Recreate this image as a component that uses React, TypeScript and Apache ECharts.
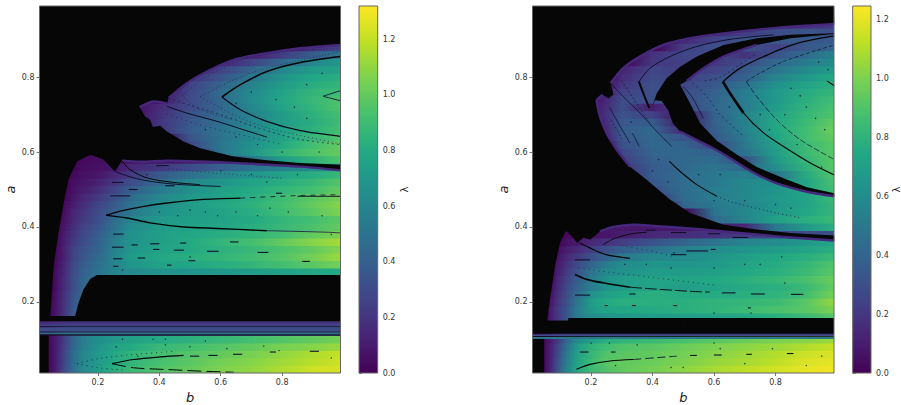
import React, { useEffect, useRef } from "react";
import * as echarts from "echarts";

type P = number[];
const FONT = "DejaVu Sans";
const BLACK = "#060606";
const FRINGE = "#46287c";

const xTicks = [0.2, 0.4, 0.6, 0.8];
const yTicks = [0.2, 0.4, 0.6, 0.8];
const cbTicks = [0, 0.2, 0.4, 0.6, 0.8, 1.0, 1.2];
const viridis = ["#440154", "#482475", "#414487", "#355f8d", "#2a788e", "#21918c", "#22a884", "#44bf70", "#7ad151", "#bddf26", "#fde725"];

// b positions of the columns of the lambda tables (values are lambda x 100)
const bStops = [0.01, 0.05, 0.07, 0.09, 0.12, 0.15, 0.2, 0.25, 0.3, 0.4, 0.5, 0.6, 0.7, 0.8, 0.9, 0.99];
const rowStart = 0.01;
const rowStep = 0.02;

const leftLambda = [
  [0, 5, 15, 28, 48, 62, 72, 82, 88, 95, 100, 106, 110, 116, 122, 124],
  [0, 5, 14, 27, 47, 60, 70, 80, 85, 93, 98, 104, 108, 113, 118, 122],
  [0, 5, 14, 27, 46, 60, 70, 78, 85, 92, 96, 100, 105, 110, 116, 120],
  [0, 5, 14, 25, 43, 57, 68, 76, 80, 88, 92, 96, 100, 105, 108, 112],
  [0, 5, 13, 24, 42, 55, 65, 70, 74, 80, 84, 88, 92, 96, 100, 104],
  [0, 5, 13, 24, 30, 30, 30, 30, 30, 30, 30, 30, 30, 30, 30, 30],
  [0, 5, 13, 24, 30, 30, 30, 30, 30, 30, 30, 30, 30, 30, 30, 30],
  [0, 3, 10, 20, 35, 45, 50, 50, 50, 50, 50, 50, 50, 50, 50, 50],
  [0, 3, 10, 20, 36, 46, 50, 50, 50, 50, 50, 50, 50, 50, 50, 50],
  [0, 2, 10, 19, 34, 46, 52, 55, 55, 55, 55, 55, 55, 55, 55, 55],
  [0, 1, 9, 18, 33, 44, 52, 55, 55, 55, 55, 55, 55, 55, 55, 55],
  [0, 0, 8, 16, 31, 42, 52, 55, 55, 55, 55, 55, 55, 55, 55, 55],
  [0, 0, 8, 16, 31, 42, 52, 55, 55, 55, 55, 55, 55, 55, 55, 55],
  [0, 0, 8, 15, 30, 40, 50, 58, 62, 66, 68, 70, 72, 76, 78, 80],
  [0, 0, 6, 14, 28, 38, 48, 58, 68, 75, 78, 82, 86, 92, 98, 104],
  [0, 0, 5, 12, 26, 35, 45, 58, 70, 78, 82, 86, 90, 96, 104, 112],
  [0, 0, 5, 12, 25, 33, 42, 57, 68, 76, 80, 84, 88, 94, 100, 108],
  [0, 0, 4, 11, 22, 30, 40, 56, 66, 74, 80, 86, 92, 100, 108, 114],
  [0, 0, 3, 10, 20, 28, 38, 52, 65, 74, 78, 82, 86, 92, 100, 106],
  [0, 0, 2, 8, 17, 25, 35, 48, 62, 72, 76, 78, 82, 88, 94, 100],
  [0, 0, 0, 6, 15, 22, 32, 45, 58, 70, 74, 76, 80, 86, 92, 98],
  [0, 0, 0, 5, 14, 20, 30, 40, 52, 66, 72, 76, 82, 90, 98, 106],
  [0, 0, 0, 4, 10, 17, 26, 36, 48, 64, 72, 78, 84, 92, 100, 108],
  [0, 0, 0, 2, 8, 14, 22, 32, 44, 60, 70, 76, 82, 90, 98, 104],
  [0, 0, 0, 0, 6, 10, 17, 26, 38, 54, 66, 74, 80, 86, 92, 100],
  [0, 0, 0, 0, 5, 8, 12, 20, 30, 46, 60, 68, 76, 82, 88, 96],
  [0, 0, 0, 0, 3, 6, 8, 14, 22, 36, 48, 60, 68, 76, 82, 88],
  [0, 0, 0, 0, 0, 4, 6, 8, 14, 22, 30, 40, 50, 58, 62, 64],
  [0, 0, 0, 0, 0, 3, 5, 5, 6, 8, 10, 14, 50, 72, 85, 95],
  [0, 0, 0, 0, 0, 0, 3, 3, 4, 4, 20, 50, 68, 85, 95, 100],
  [0, 0, 0, 0, 0, 0, 0, 0, 0, 0, 28, 52, 66, 80, 92, 100],
  [0, 0, 0, 0, 0, 0, 0, 0, 0, 0, 34, 50, 62, 76, 87, 95],
  [0, 0, 0, 0, 0, 0, 0, 0, 0, 20, 38, 50, 62, 74, 84, 92],
  [0, 0, 0, 0, 0, 0, 0, 0, 0, 20, 36, 48, 60, 72, 82, 90],
  [0, 0, 0, 0, 0, 0, 0, 0, 3, 18, 34, 46, 58, 72, 84, 92],
  [0, 0, 0, 0, 0, 0, 0, 0, 3, 16, 30, 44, 60, 76, 86, 95],
  [0, 0, 0, 0, 0, 0, 0, 0, 2, 8, 30, 44, 64, 78, 88, 94],
  [0, 0, 0, 0, 0, 0, 0, 0, 0, 4, 28, 46, 62, 76, 86, 90],
  [0, 0, 0, 0, 0, 0, 0, 0, 0, 0, 26, 42, 58, 72, 82, 86],
  [0, 0, 0, 0, 0, 0, 0, 0, 0, 0, 20, 34, 52, 68, 78, 82],
  [0, 0, 0, 0, 0, 0, 0, 0, 0, 0, 10, 26, 42, 60, 72, 76],
  [0, 0, 0, 0, 0, 0, 0, 0, 0, 0, 0, 15, 26, 44, 60, 70],
  [0, 0, 0, 0, 0, 0, 0, 0, 0, 0, 0, 0, 12, 24, 38, 52],
  [0, 0, 0, 0, 0, 0, 0, 0, 0, 0, 0, 0, 0, 8, 18, 28],
];

const rightLambda = [
  [0, 4, 14, 30, 55, 72, 84, 90, 94, 98, 103, 108, 112, 116, 120, 122],
  [0, 4, 13, 28, 52, 70, 84, 92, 94, 96, 100, 105, 108, 112, 118, 120],
  [0, 4, 12, 26, 50, 68, 82, 90, 92, 94, 98, 102, 106, 110, 115, 118],
  [0, 4, 12, 24, 46, 65, 80, 86, 90, 92, 96, 100, 103, 106, 110, 114],
  [0, 4, 10, 20, 40, 58, 70, 78, 80, 84, 88, 92, 96, 100, 102, 106],
  [0, 4, 10, 20, 30, 30, 30, 30, 30, 30, 30, 30, 30, 30, 30, 30],
  [0, 4, 10, 20, 30, 50, 60, 60, 60, 60, 60, 60, 60, 60, 60, 60],
  [0, 0, 10, 20, 32, 50, 60, 64, 66, 68, 70, 72, 74, 78, 84, 92],
  [0, 0, 10, 20, 32, 50, 66, 72, 74, 76, 78, 80, 84, 88, 92, 100],
  [0, 0, 8, 18, 30, 46, 68, 75, 78, 78, 78, 80, 82, 84, 92, 104],
  [0, 0, 6, 16, 28, 42, 62, 70, 74, 78, 76, 76, 78, 80, 86, 98],
  [0, 0, 4, 14, 26, 38, 52, 64, 68, 72, 70, 72, 76, 78, 84, 94],
  [0, 0, 2, 12, 24, 34, 52, 62, 68, 72, 72, 74, 78, 82, 88, 96],
  [0, 0, 0, 10, 20, 30, 48, 58, 62, 68, 68, 70, 74, 78, 84, 92],
  [0, 0, 0, 8, 18, 26, 40, 52, 60, 64, 64, 66, 72, 76, 82, 90],
  [0, 0, 0, 6, 14, 20, 30, 40, 50, 58, 60, 64, 70, 74, 78, 84],
  [0, 0, 0, 4, 10, 14, 22, 30, 38, 46, 54, 60, 64, 68, 72, 78],
  [0, 0, 0, 0, 6, 8, 14, 18, 22, 32, 40, 48, 56, 60, 66, 74],
  [0, 0, 0, 0, 3, 5, 6, 8, 10, 14, 16, 18, 22, 26, 28, 30],
  [0, 0, 0, 0, 0, 0, 4, 8, 8, 8, 8, 10, 14, 50, 66, 78],
  [0, 0, 0, 0, 0, 0, 0, 0, 0, 0, 0, 42, 56, 70, 78, 84],
  [0, 0, 0, 0, 0, 0, 0, 0, 0, 0, 0, 48, 58, 66, 74, 82],
  [0, 0, 0, 0, 0, 0, 0, 0, 0, 0, 40, 50, 56, 64, 72, 82],
  [0, 0, 0, 0, 0, 0, 0, 0, 0, 20, 44, 52, 58, 66, 72, 84],
  [0, 0, 0, 0, 0, 0, 0, 0, 0, 30, 44, 52, 58, 64, 74, 86],
  [0, 0, 0, 0, 0, 0, 0, 0, 10, 34, 44, 50, 58, 62, 72, 88],
  [0, 0, 0, 0, 0, 0, 0, 0, 14, 36, 44, 50, 54, 46, 76, 90],
  [0, 0, 0, 0, 0, 0, 0, 0, 18, 36, 42, 48, 42, 60, 80, 92],
  [0, 0, 0, 0, 0, 0, 0, 0, 22, 38, 42, 44, 30, 66, 82, 92],
  [0, 0, 0, 0, 0, 0, 0, 3, 26, 40, 42, 38, 46, 68, 84, 92],
  [0, 0, 0, 0, 0, 0, 0, 8, 30, 42, 40, 26, 50, 70, 84, 92],
  [0, 0, 0, 0, 0, 0, 0, 12, 34, 42, 32, 34, 52, 72, 86, 94],
  [0, 0, 0, 0, 0, 0, 0, 14, 36, 42, 14, 36, 54, 74, 86, 96],
  [0, 0, 0, 0, 0, 0, 4, 16, 34, 36, 8, 38, 54, 74, 84, 94],
  [0, 0, 0, 0, 0, 0, 6, 18, 32, 24, 6, 38, 56, 72, 82, 90],
  [0, 0, 0, 0, 0, 0, 6, 16, 30, 10, 26, 40, 52, 68, 80, 88],
  [0, 0, 0, 0, 0, 0, 5, 14, 28, 30, 28, 40, 52, 66, 78, 86],
  [0, 0, 0, 0, 0, 0, 0, 10, 24, 30, 28, 38, 52, 66, 76, 82],
  [0, 0, 0, 0, 0, 0, 0, 4, 20, 30, 26, 34, 46, 62, 72, 78],
  [0, 0, 0, 0, 0, 0, 0, 0, 16, 28, 22, 30, 38, 56, 66, 74],
  [0, 0, 0, 0, 0, 0, 0, 0, 12, 26, 22, 24, 34, 48, 60, 68],
  [0, 0, 0, 0, 0, 0, 0, 0, 0, 20, 24, 20, 28, 42, 52, 60],
  [0, 0, 0, 0, 0, 0, 0, 0, 0, 18, 26, 28, 18, 32, 44, 54],
  [0, 0, 0, 0, 0, 0, 0, 0, 0, 0, 22, 30, 32, 24, 34, 40],
  [0, 0, 0, 0, 0, 0, 0, 0, 0, 0, 14, 24, 32, 34, 34, 34],
  [0, 0, 0, 0, 0, 0, 0, 0, 0, 0, 0, 14, 22, 28, 32, 30],
  [0, 0, 0, 0, 0, 0, 0, 0, 0, 0, 0, 0, 0, 12, 18, 22],
];

// [a low, a high, lambda] of the thin horizontal strips; -1 is black
const leftStrips = [[0.142, 0.148, 0.17], [0.134, 0.142, 0.24], [0.132, 0.134, -1], [0.12, 0.132, 0.3], [0.118, 0.12, -1], [0.113, 0.118, 0.47], [0.11, 0.113, -1]];
const rightStrips = [[0.112, 0.115, 0.15], [0.108, 0.112, 0.28], [0.106, 0.108, -1], [0.101, 0.106, 0.5]];

// Outlines of the regions, as [b, a]
const lWedgeTop: P[] = [[0.43, 0.744], [0.49, 0.784], [0.555, 0.815], [0.642, 0.846], [0.75, 0.864], [0.859, 0.877], [0.99, 0.886]];
const lBlob: P[] = [[0.425, 0.729], [0.381, 0.735], [0.336, 0.72], [0.354, 0.695], [0.37, 0.686], [0.379, 0.667], [0.403, 0.67]];
const lWedgeBottom: P[] = [[0.425, 0.655], [0.479, 0.628], [0.533, 0.61], [0.642, 0.588], [0.75, 0.578], [0.859, 0.571], [0.99, 0.566]];
const lBandTop: P[] = [[0.278, 0.577], [0.338, 0.574], [0.425, 0.577], [0.533, 0.575], [0.642, 0.571], [0.859, 0.561], [0.99, 0.551]];
const lHump: P[] = [[0.088, 0.46], [0.104, 0.526], [0.132, 0.575], [0.175, 0.593], [0.218, 0.58], [0.256, 0.548]];
const lLeftEdge: P[] = [[0.045, 0.162], [0.056, 0.295], [0.072, 0.384], [0.088, 0.46]];
const lBase: P[] = [[0.045, 0.162], [0.126, 0.162], [0.137, 0.197], [0.153, 0.233], [0.175, 0.261], [0.197, 0.272], [0.99, 0.272]];

const leftMasks: P[][] = [
  [[0.01, 0.99], [0.99, 0.99], ...[...lWedgeTop].reverse(), ...lBlob, ...lWedgeBottom, ...[...lBandTop].reverse(), ...[...lHump].reverse(), ...[...lLeftEdge].reverse(), ...lBase, [0.99, 0.148], [0.01, 0.148]],
  [[0.01, 0.01], [0.04, 0.01], [0.04, 0.11], [0.01, 0.11]],
];
const leftFringes: P[][] = [lWedgeTop, lBandTop, [[0.336, 0.72], [0.381, 0.735], [0.425, 0.729]]];

// [points, width, colour, dash]
const leftCurves: [P[], number, string, number[] | null][] = [
  [[[0.604, 0.747], [0.664, 0.78], [0.75, 0.815], [0.859, 0.839], [0.99, 0.855]], 1.6, "#060606", null],
  [[[0.604, 0.747], [0.664, 0.713], [0.75, 0.682], [0.859, 0.657], [0.99, 0.642]], 1.2, "#0a0a20", null],
  [[[0.933, 0.749], [0.99, 0.764]], 0.9, "#111133", null],
  [[[0.933, 0.749], [0.99, 0.737]], 0.9, "#111133", null],
  [[[0.533, 0.748], [0.642, 0.793], [0.75, 0.824], [0.99, 0.868]], 0.7, "#2a1f55", [1, 2]],
  [[[0.533, 0.748], [0.642, 0.7], [0.75, 0.665], [0.99, 0.622]], 0.7, "#2a1f55", [1, 3]],
  [[[0.475, 0.75], [0.55, 0.8], [0.7, 0.855], [0.99, 0.878]], 0.7, "#2a1f55", [1, 2]],
  [[[0.475, 0.75], [0.53, 0.715], [0.64, 0.686]], 0.8, "#2a1f55", [1, 2]],
  [[[0.425, 0.722], [0.49, 0.704], [0.588, 0.682], [0.68, 0.658], [0.75, 0.64]], 1.0, "#0a0a20", null],
  [[[0.43, 0.744], [0.5, 0.725], [0.6, 0.7], [0.72, 0.665], [0.85, 0.635], [0.99, 0.62]], 0.7, "#22184a", [2, 3]],
  [[[0.425, 0.702], [0.52, 0.675], [0.62, 0.655], [0.8, 0.62]], 0.7, "#22184a", [1, 4]],
  [[[0.227, 0.431], [0.273, 0.442], [0.35, 0.455], [0.425, 0.464], [0.533, 0.473], [0.664, 0.477]], 1.3, "#060606", null],
  [[[0.664, 0.477], [0.859, 0.484], [0.99, 0.486]], 0.8, "#10102a", [5, 5]],
  [[[0.227, 0.431], [0.294, 0.424], [0.37, 0.411], [0.479, 0.4], [0.588, 0.396], [0.75, 0.39]], 1.4, "#060606", null],
  [[[0.75, 0.39], [0.946, 0.386], [0.99, 0.384]], 0.8, "#221048", null],
  [[[0.278, 0.577], [0.305, 0.553], [0.36, 0.531], [0.446, 0.519], [0.533, 0.513]], 1.0, "#060606", null],
  [[[0.256, 0.548], [0.33, 0.528], [0.44, 0.515], [0.6, 0.508]], 0.9, "#0a0a20", null],
  [[[0.34, 0.565], [0.5, 0.55], [0.8, 0.53]], 0.7, "#2a1f55", [1, 3]],
  [[[0.246, 0.035], [0.316, 0.046], [0.403, 0.053], [0.479, 0.057]], 1.2, "#060606", null],
  [[[0.246, 0.035], [0.316, 0.024], [0.403, 0.02], [0.457, 0.018], [0.533, 0.015], [0.642, 0.012]], 1.0, "#060606", [14, 5]],
  [[[0.132, 0.035], [0.2, 0.048], [0.3, 0.058], [0.45, 0.068]], 0.8, "#1a1a33", [1, 4]],
  [[[0.132, 0.035], [0.2, 0.024], [0.28, 0.018]], 0.8, "#1a1a33", [1, 4]],
];

// [a, b start, b end]
const leftDashes = [
  [0.564, 0.39, 0.43], [0.519, 0.246, 0.284], [0.483, 0.24, 0.305], [0.482, 0.85, 0.99], [0.381, 0.25, 0.284], [0.346, 0.246, 0.284], [0.352, 0.31, 0.33],
  [0.355, 0.37, 0.4], [0.34, 0.38, 0.4], [0.338, 0.447, 0.48], [0.335, 0.555, 0.593], [0.36, 0.63, 0.658], [0.332, 0.72, 0.755], [0.308, 0.865, 0.89],
  [0.31, 0.495, 0.517], [0.295, 0.25, 0.267], [0.315, 0.25, 0.28], [0.317, 0.33, 0.354], [0.298, 0.425, 0.44], [0.357, 0.468, 0.488],
  [0.5, 0.3, 0.33], [0.51, 0.42, 0.45], [0.49, 0.78, 0.8], [0.055, 0.5, 0.53], [0.057, 0.56, 0.59], [0.06, 0.64, 0.67], [0.066, 0.76, 0.78], [0.068, 0.89, 0.92],
];
const leftDots: P[] = [
  [0.28, 0.1], [0.38, 0.1], [0.42, 0.085], [0.42, 0.1], [0.55, 0.095], [0.62, 0.075], [0.74, 0.082], [0.79, 0.07], [0.33, 0.055], [0.26, 0.08], [0.96, 0.05], [0.5, 0.08],
  [0.4, 0.44], [0.46, 0.43], [0.5, 0.445], [0.55, 0.44], [0.59, 0.43], [0.65, 0.44], [0.72, 0.43], [0.76, 0.45], [0.82, 0.44], [0.93, 0.43], [0.96, 0.38], [0.5, 0.32], [0.28, 0.285],
  [0.65, 0.73], [0.7, 0.76], [0.78, 0.74], [0.84, 0.72], [0.88, 0.78], [0.93, 0.81], [0.55, 0.66], [0.65, 0.64], [0.72, 0.62], [0.8, 0.6], [0.92, 0.6], [0.88, 0.69],
  [0.6, 0.55], [0.7, 0.54], [0.75, 0.52], [0.4, 0.52], [0.85, 0.54], [0.36, 0.54],
];

const rTop: P[] = [[0.264, 0.784], [0.305, 0.824], [0.359, 0.855], [0.435, 0.886], [0.522, 0.904], [0.631, 0.917], [0.793, 0.931], [0.991, 0.942]];
const rBlobTop: P[] = [[0.218, 0.739], [0.238, 0.753], [0.257, 0.743], [0.273, 0.754], [0.264, 0.784]];
const rOuterLeft: P[] = [[0.218, 0.739], [0.229, 0.695], [0.251, 0.65], [0.284, 0.606], [0.327, 0.561], [0.381, 0.526], [0.457, 0.473]];
const rBigBottom: P[] = [[0.522, 0.437], [0.631, 0.406], [0.739, 0.393], [0.848, 0.384], [0.991, 0.377]];
const rMidTop: P[] = [[0.175, 0.372], [0.197, 0.366], [0.229, 0.388], [0.273, 0.4], [0.338, 0.406], [0.414, 0.402], [0.522, 0.396], [0.63, 0.388], [0.739, 0.38], [0.848, 0.372], [0.991, 0.364]];
const rHump: P[] = [[0.058, 0.15], [0.0666, 0.206], [0.083, 0.295], [0.099, 0.357], [0.119, 0.39], [0.138, 0.375], [0.156, 0.357], [0.175, 0.372]];
const rInnerUpper: P[] = [[0.991, 0.917], [0.848, 0.913], [0.739, 0.904], [0.631, 0.886], [0.544, 0.855], [0.49, 0.828], [0.446, 0.797], [0.414, 0.757], [0.398, 0.72]];
const rInnerBlob: P[] = [[0.408, 0.738], [0.43, 0.736], [0.452, 0.71], [0.466, 0.677]];
const rCrescentLow: P[] = [[0.49, 0.655], [0.544, 0.632], [0.609, 0.605], [0.663, 0.578], [0.717, 0.55], [0.793, 0.52], [0.902, 0.494], [0.991, 0.482]];
const rCrescentUp: P[] = [[0.991, 0.49], [0.902, 0.506], [0.826, 0.53], [0.739, 0.56], [0.675, 0.593], [0.609, 0.63], [0.555, 0.677], [0.522, 0.73], [0.49, 0.78]];
const rLobeTop: P[] = [[0.511, 0.79], [0.566, 0.824], [0.631, 0.855], [0.739, 0.886], [0.848, 0.904], [0.991, 0.915]];

const rightMasks: P[][] = [
  [[0.01, 0.99], [0.99, 0.99], ...[...rTop].reverse(), ...[...rBlobTop].reverse(), ...rOuterLeft, ...rBigBottom, ...[...rMidTop].reverse(), ...[...rHump].reverse(), [0.126, 0.15], [0.126, 0.157], [0.99, 0.157], [0.99, 0.115], [0.01, 0.115]],
  [[0.01, 0.01], [0.048, 0.01], [0.048, 0.101], [0.01, 0.101]],
  [...rInnerUpper, ...rInnerBlob, ...rCrescentLow, ...rCrescentUp, ...rLobeTop],
];
const rightFringes: P[][] = [rTop, rMidTop.slice(2), rCrescentLow, rOuterLeft.slice(0, 5), rLobeTop.slice(0, 4), [[0.218, 0.739], [0.238, 0.753]]];

const rightCurves: [P[], number, string, number[] | null][] = [
  [[[0.356, 0.788], [0.392, 0.824], [0.457, 0.855], [0.544, 0.882], [0.652, 0.901], [0.793, 0.913]], 1.0, "#10102a", null],
  [[[0.356, 0.788], [0.37, 0.757], [0.39, 0.717]], 2.0, "#060606", null],
  [[[0.264, 0.784], [0.305, 0.748], [0.36, 0.704], [0.414, 0.655], [0.463, 0.615]], 0.8, "#10102a", null],
  [[[0.3, 0.79], [0.34, 0.74], [0.39, 0.68]], 0.7, "#1a1a3a", [2, 2]],
  [[[0.26, 0.72], [0.289, 0.677], [0.327, 0.624]], 0.8, "#10102a", null],
  [[[0.266, 0.685], [0.304, 0.63]], 0.7, "#1a1a3a", [2, 2]],
  [[[0.335, 0.65], [0.357, 0.615]], 0.8, "#10102a", null],
  [[[0.455, 0.575], [0.49, 0.548], [0.544, 0.513], [0.609, 0.482]], 1.1, "#060606", null],
  [[[0.609, 0.482], [0.652, 0.468], [0.804, 0.437], [0.88, 0.425]], 0.8, "#1a1a3a", [1, 3]],
  [[[0.629, 0.788], [0.652, 0.757], [0.696, 0.704], [0.761, 0.651], [0.826, 0.615], [0.913, 0.571], [0.991, 0.539]], 1.1, "#060606", null],
  [[[0.629, 0.788], [0.652, 0.757], [0.696, 0.704]], 2.6, "#060606", null],
  [[[0.629, 0.788], [0.685, 0.824], [0.772, 0.859], [0.87, 0.89], [0.991, 0.91]], 1.3, "#060606", null],
  [[[0.705, 0.788], [0.739, 0.748], [0.804, 0.686], [0.88, 0.633], [0.991, 0.58]], 0.7, "#10102a", [6, 2]],
  [[[0.705, 0.788], [0.739, 0.806], [0.826, 0.842], [0.991, 0.886]], 0.7, "#10102a", [4, 2]],
  [[[0.5, 0.775], [0.53, 0.745], [0.565, 0.69]], 0.8, "#10102a", null],
  [[[0.52, 0.795], [0.58, 0.745], [0.62, 0.7], [0.7, 0.64]], 0.7, "#1a1a3a", [2, 3]],
  [[[0.57, 0.79], [0.62, 0.8], [0.74, 0.865]], 0.7, "#1a1a3a", [2, 3]],
  [[[0.967, 0.79], [0.991, 0.777]], 1.1, "#060606", null],
  [[[0.24, 0.353], [0.273, 0.368], [0.327, 0.381], [0.381, 0.386]], 0.9, "#060606", null],
  [[[0.164, 0.357], [0.196, 0.344], [0.25, 0.326], [0.327, 0.316]], 1.2, "#060606", null],
  [[[0.148, 0.273], [0.186, 0.26], [0.251, 0.249], [0.327, 0.239]], 1.6, "#060606", null],
  [[[0.327, 0.239], [0.392, 0.235], [0.468, 0.231], [0.522, 0.228], [0.587, 0.226]], 0.9, "#060606", [12, 3]],
  [[[0.153, 0.02], [0.197, 0.033], [0.262, 0.042], [0.338, 0.046]], 1.2, "#060606", null],
  [[[0.338, 0.046], [0.414, 0.051], [0.479, 0.055]], 0.9, "#10102a", [8, 4]],
  [[[0.16, 0.29], [0.25, 0.28], [0.4, 0.265], [0.6, 0.245]], 0.7, "#1a1a3a", [1, 4]],
  [[[0.3, 0.35], [0.4, 0.335], [0.47, 0.32]], 0.7, "#1a1a3a", [1, 4]],
];

const rightDashes = [
  [0.391, 0.38, 0.41], [0.385, 0.46, 0.51], [0.382, 0.58, 0.62], [0.372, 0.66, 0.71], [0.326, 0.46, 0.51], [0.336, 0.51, 0.58], [0.34, 0.59, 0.605], [0.312, 0.148, 0.197],
  [0.224, 0.625, 0.67], [0.221, 0.72, 0.765], [0.22, 0.85, 0.89], [0.218, 0.148, 0.197], [0.221, 0.325, 0.345], [0.19, 0.333, 0.346], [0.19, 0.468, 0.48], [0.19, 0.245, 0.255],
  [0.057, 0.522, 0.544], [0.058, 0.6, 0.625], [0.06, 0.705, 0.723], [0.062, 0.837, 0.858], [0.066, 0.165, 0.192], [0.066, 0.265, 0.28], [0.184, 0.71, 0.72],
];
const rightDots: P[] = [
  [0.2, 0.09], [0.26, 0.09], [0.35, 0.085], [0.6, 0.09], [0.62, 0.075], [0.79, 0.075], [0.5, 0.025], [0.46, 0.025], [0.7, 0.035], [0.28, 0.03], [0.95, 0.055], [0.9, 0.03],
  [0.47, 0.33], [0.38, 0.3], [0.31, 0.3], [0.46, 0.29], [0.6, 0.29], [0.7, 0.3], [0.75, 0.3], [0.82, 0.32], [0.83, 0.25], [0.72, 0.17], [0.6, 0.17], [0.5, 0.14],
  [0.85, 0.77], [0.88, 0.75], [0.9, 0.72], [0.93, 0.69], [0.96, 0.66], [0.75, 0.7], [0.78, 0.66], [0.83, 0.7], [0.87, 0.62], [0.95, 0.56], [0.97, 0.82], [0.94, 0.84],
  [0.62, 0.54], [0.6, 0.47], [0.55, 0.54], [0.7, 0.47], [0.8, 0.46], [0.85, 0.45], [0.42, 0.58], [0.45, 0.52], [0.4, 0.55], [0.33, 0.68], [0.45, 0.75], [0.65, 0.72],
];

const hexToRgb = (h: string) => [parseInt(h.slice(1, 3), 16), parseInt(h.slice(3, 5), 16), parseInt(h.slice(5, 7), 16)];
function colourOf(t: number) {
  const u = Math.max(0, Math.min(0.9999, t)) * (viridis.length - 1);
  const i = Math.floor(u);
  const f = u - i;
  const p = hexToRgb(viridis[i]);
  const q = hexToRgb(viridis[i + 1]);
  return `rgb(${p.map((v, k) => Math.round(v + (q[k] - v) * f)).join(",")})`;
}

const BMIN = 0.01;
const BMAX = 0.99;

function panelSeries(g: number, table: number[][], strips: number[][], masks: P[][], fringes: P[][], curves: any[], dashes: number[][], dots: P[], lamMax: number) {
  const common = { xAxisIndex: g, yAxisIndex: g, silent: true, encode: { x: 0, y: 1 } };
  const stops = bStops.map((b) => (b - BMIN) / (BMAX - BMIN));
  return [
    {
      ...common, type: "custom", z: 2, clip: true,
      data: table.map((_, i) => [BMIN, rowStart + rowStep * i]),
      renderItem: (p: any, api: any) => {
        const row = table[p.dataIndex];
        const a = api.value(1);
        const l = api.coord([BMIN, a + rowStep]);
        const r = api.coord([BMAX, a]);
        return {
          type: "rect",
          shape: { x: l[0], y: l[1] - 0.4, width: r[0] - l[0], height: r[1] - l[1] + 0.8 },
          style: { fill: new echarts.graphic.LinearGradient(0, 0, 1, 0, row.map((v, k) => ({ offset: stops[k], color: colourOf(v / 100 / lamMax) }))) },
        };
      },
    },
    {
      ...common, type: "custom", z: 3, clip: true,
      data: strips.map((s) => [BMIN, s[0]]),
      renderItem: (p: any, api: any) => {
        const s = strips[p.dataIndex];
        const l = api.coord([BMIN, s[1]]);
        const r = api.coord([BMAX, s[0]]);
        return { type: "rect", shape: { x: l[0], y: l[1], width: r[0] - l[0], height: r[1] - l[1] }, style: { fill: s[2] < 0 ? BLACK : colourOf(s[2] / lamMax) } };
      },
    },
    {
      ...common, type: "custom", z: 4, clip: true,
      data: masks.map((m) => m[0]),
      renderItem: (p: any, api: any) => ({
        type: "polygon",
        shape: { points: masks[p.dataIndex].map((q) => api.coord(q)) },
        style: { fill: BLACK },
      }),
    },
    {
      ...common, type: "custom", z: 5, clip: true,
      data: fringes.map((m) => m[0]),
      renderItem: (p: any, api: any) => ({
        type: "polyline",
        shape: { points: fringes[p.dataIndex].map((q) => api.coord(q)), smooth: 0.3 },
        style: { stroke: FRINGE, lineWidth: 2.4, fill: "none" },
      }),
    },
    {
      ...common, type: "custom", z: 6, clip: true,
      data: curves.map((c) => c[0][0]),
      renderItem: (p: any, api: any) => {
        const c = curves[p.dataIndex];
        return {
          type: "polyline",
          shape: { points: c[0].map((q: P) => api.coord(q)), smooth: 0.3 },
          style: { stroke: c[2], lineWidth: c[1], fill: "none", lineDash: c[3] || undefined },
        };
      },
    },
    {
      ...common, type: "custom", z: 6, clip: true,
      data: dashes.map((d) => [d[1], d[0]]),
      renderItem: (p: any, api: any) => {
        const d = dashes[p.dataIndex];
        const s = api.coord([d[1], d[0]]);
        const e = api.coord([d[2], d[0]]);
        return { type: "line", shape: { x1: s[0], y1: s[1], x2: e[0], y2: e[1] }, style: { stroke: "#14102c", lineWidth: 1.1 } };
      },
    },
    { ...common, type: "scatter", z: 6, symbolSize: 1.4, itemStyle: { color: "#14102c" }, data: dots },
    {
      ...common, type: "custom", z: 9, clip: false,
      data: [[BMIN, BMIN]],
      renderItem: (_: any, api: any) => {
        const l = api.coord([BMIN, BMAX]);
        const r = api.coord([BMAX, BMIN]);
        return { type: "rect", shape: { x: l[0], y: l[1], width: r[0] - l[0], height: r[1] - l[1] }, style: { fill: "none", stroke: "#666", lineWidth: 1 } };
      },
    },
  ];
}

function colourbarSeries(i: number, lamMax: number) {
  return {
    type: "custom", xAxisIndex: i, yAxisIndex: i, silent: true, z: 2, clip: false,
    encode: { x: 0, y: 1 },
    data: [[0, 0]],
    renderItem: (_: any, api: any) => {
      const l = api.coord([0, lamMax]);
      const r = api.coord([1, 0]);
      return {
        type: "rect",
        shape: { x: l[0], y: l[1], width: r[0] - l[0], height: r[1] - l[1] },
        style: {
          fill: new echarts.graphic.LinearGradient(0, 1, 0, 0, viridis.map((c, k) => ({ offset: k / (viridis.length - 1), color: c }))),
          stroke: "#666", lineWidth: 1,
        },
      };
    },
  };
}

const label = { fontFamily: FONT, fontSize: 8, color: "#333", margin: 5 };
const tick = { show: true, length: 3, lineStyle: { color: "#555", width: 0.8 } };
const fmt = (v: number) => Number(v).toFixed(1);

function dataX(g: number, name: string) {
  return {
    type: "value", gridIndex: g, min: BMIN, max: BMAX, name, nameLocation: "middle", nameGap: 17,
    nameTextStyle: { fontFamily: FONT, fontSize: 13, fontStyle: "italic", color: "#222" },
    axisLine: { show: false }, splitLine: { show: false },
    axisTick: { ...tick, customValues: xTicks },
    axisLabel: { ...label, customValues: xTicks, formatter: fmt },
  };
}
function dataY(g: number, name: string) {
  return {
    type: "value", gridIndex: g, min: BMIN, max: BMAX, name, nameLocation: "middle", nameGap: 23, nameRotate: 90,
    nameTextStyle: { fontFamily: FONT, fontSize: 13, fontStyle: "italic", color: "#222" },
    axisLine: { show: false }, splitLine: { show: false },
    axisTick: { ...tick, customValues: yTicks },
    axisLabel: { ...label, customValues: yTicks, formatter: fmt },
  };
}
function cbX(g: number) {
  return { type: "value", gridIndex: g, min: 0, max: 1, show: false };
}
function cbY(g: number, lamMax: number, gap: number) {
  return {
    type: "value", gridIndex: g, min: 0, max: lamMax, position: "right", name: "λ", nameLocation: "middle", nameGap: gap, nameRotate: 90, nameMoveOverlap: false,
    nameTextStyle: { fontFamily: FONT, fontSize: 10, color: "#222" },
    axisLine: { show: false }, splitLine: { show: false },
    axisTick: { ...tick, customValues: cbTicks },
    axisLabel: { ...label, customValues: cbTicks, formatter: fmt },
  };
}

export default function App() {
  const ref = useRef<HTMLDivElement>(null);
  useEffect(() => {
    const chart = echarts.init(ref.current!, undefined, { renderer: "svg" });
    const LEFT_MAX = 1.32;
    const RIGHT_MAX = 1.245;
    chart.setOption({
      animation: false,
      backgroundColor: "#fff",
      grid: [
        { left: 39.5, top: 6, width: 301, height: 367, outerBoundsMode: "none" },
        { left: 532.5, top: 6, width: 301.5, height: 367, outerBoundsMode: "none" },
        { left: 359, top: 6, width: 18.7, height: 367, outerBoundsMode: "none" },
        { left: 852.7, top: 6, width: 18.3, height: 367, outerBoundsMode: "none" },
      ],
      xAxis: [dataX(0, "b"), dataX(1, "b"), cbX(2), cbX(3)],
      yAxis: [dataY(0, "a"), dataY(1, "a"), cbY(2, LEFT_MAX, 22), cbY(3, RIGHT_MAX, 20)],
      series: [
        ...panelSeries(0, leftLambda, leftStrips, leftMasks, leftFringes, leftCurves, leftDashes, leftDots, LEFT_MAX),
        ...panelSeries(1, rightLambda, rightStrips, rightMasks, rightFringes, rightCurves, rightDashes, rightDots, RIGHT_MAX),
        colourbarSeries(2, LEFT_MAX),
        colourbarSeries(3, RIGHT_MAX),
      ],
    });
    return () => chart.dispose();
  }, []);
  return <div ref={ref} style={{ position: "absolute", left: 0, top: 0, width: 901, height: 405 }} />;
}
